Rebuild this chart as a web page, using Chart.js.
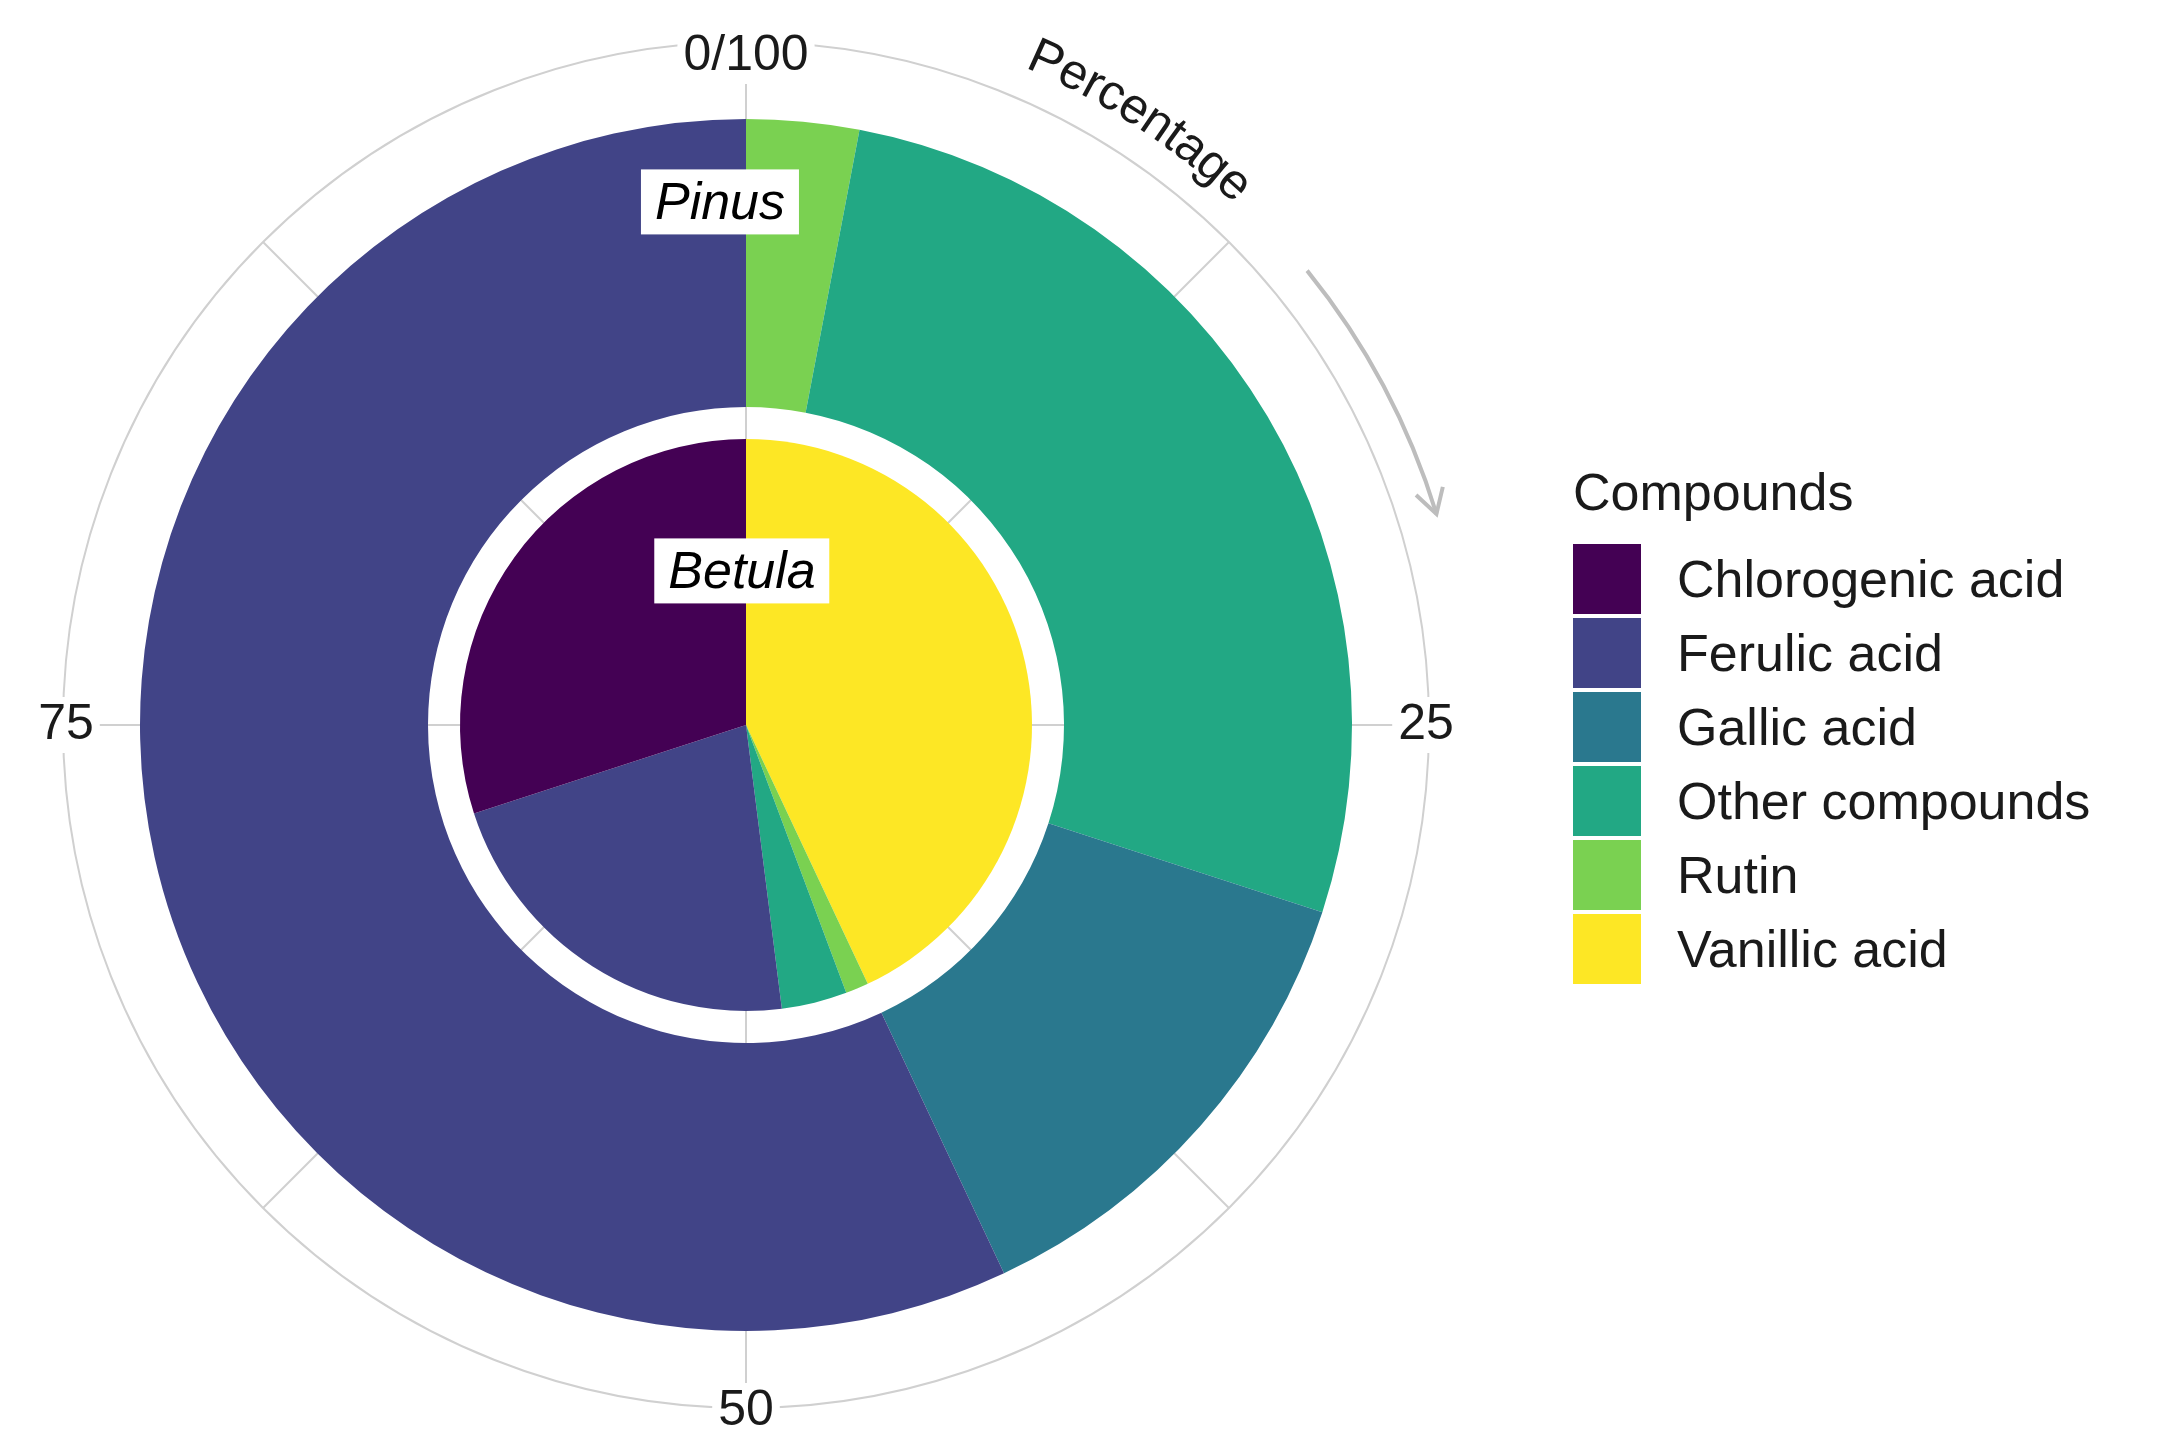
<!DOCTYPE html>
<html>
<head>
<meta charset="UTF-8" />
<script src="https://cdn.jsdelivr.net/npm/chart.js"></script>
<style>
  body { margin: 0; width: 2174px; height: 1449px; background: #fff; font-family: "Liberation Sans", Arial, sans-serif; position: relative; overflow: hidden; }
  #wrap { position: absolute; left: 0; top: 0; width: 2174px; height: 1449px; }
  .tag { position: absolute; background: #fff; font-style: italic; font-size: 52px; padding: 4px 14px; transform: translate(-50%, -50%); line-height: 1.1; }
  .legend { position: absolute; left: 1573px; top: 462px; font-size: 52px; color: #1a1a1a; }
  .legend .title { margin-bottom: 20px; }
  .legend .row { display: flex; align-items: center; height: 74px; }
  .legend .sw { width: 68px; height: 70px; margin-right: 36px; }
</style>
</head>
<body>
<div id="wrap"><canvas id="myChart" width="2174" height="1449"></canvas></div>
<div class="tag" style="left:720px; top:202px;">Pinus</div>
<div class="tag" style="left:742px; top:571px;">Betula</div>
<div class="legend" id="legend"><div class="title">Compounds</div></div>

<script>
  var compounds = ["Chlorogenic acid", "Ferulic acid", "Gallic acid", "Other compounds", "Rutin", "Vanillic acid"];
  var colors = ["#440154", "#414487", "#2A788E", "#22A884", "#7AD151", "#FDE725"];
  var pinus = [0, 57, 13, 27, 3, 0];
  var betula = [30, 22, 0, 3.7, 1.3, 43];
  var tickLabels = ["0/100", "25", "50", "75"];

  // legend
  var legend = document.getElementById("legend");
  for (var i = 0; i < compounds.length; i++) {
    var row = document.createElement("div");
    row.className = "row";
    row.innerHTML = '<div class="sw" style="background:' + colors[i] + '"></div><span>' + compounds[i] + "</span>";
    legend.appendChild(row);
  }

  // ggplot stacks clockwise in reverse order
  var rev = function (a) { return a.slice().reverse(); };

  var cx = 746, cy = 725, rGrid = 683;

  var backdrop = {
    id: "backdrop",
    beforeDatasetsDraw(chart) {
      var ctx = chart.ctx;
      ctx.save();
      ctx.strokeStyle = "#d0d0d0";
      ctx.lineWidth = 2;
      for (var k = 0; k < 8; k++) {
        var a = k * Math.PI / 4 - Math.PI / 2;
        ctx.beginPath();
        ctx.moveTo(cx, cy);
        ctx.lineTo(cx + rGrid * Math.cos(a), cy + rGrid * Math.sin(a));
        ctx.stroke();
      }
      ctx.beginPath();
      ctx.arc(cx, cy, rGrid, 0, Math.PI * 2);
      ctx.stroke();
      ctx.restore();
    },
    afterDraw(chart) {
      var ctx = chart.ctx;
      ctx.save();
      ctx.font = "50px 'Liberation Sans', Arial, sans-serif";
      ctx.fillStyle = "#1a1a1a";
      ctx.textBaseline = "middle";
      ctx.textAlign = "center";
      var pos = [[cx, 56], [1426, cy], [cx, 1411], [66, cy]];
      for (var k = 0; k < tickLabels.length; k++) {
        var w = ctx.measureText(tickLabels[k]).width;
        ctx.fillStyle = "#fff";
        ctx.fillRect(pos[k][0] - w / 2 - 6, pos[k][1] - 28, w + 12, 56);
        ctx.fillStyle = "#1a1a1a";
        ctx.fillText(tickLabels[k], pos[k][0], pos[k][1]);
      }
      // curved "Percentage"
      var txt = "Percentage", r = 728, ang = 23 * Math.PI / 180;
      for (var c = 0; c < txt.length; c++) {
        var cw = ctx.measureText(txt[c]).width;
        var mid = ang + cw / 2 / r;
        ctx.save();
        ctx.translate(cx + r * Math.sin(mid), cy - r * Math.cos(mid));
        ctx.rotate(mid);
        ctx.fillText(txt[c], 0, 0);
        ctx.restore();
        ang += cw / r;
      }
      // arrow
      var ra = 722, a0 = 51 * Math.PI / 180, a1 = 73 * Math.PI / 180;
      ctx.strokeStyle = "#bdbdbd";
      ctx.lineWidth = 4;
      ctx.beginPath();
      ctx.arc(cx, cy, ra, a0 - Math.PI / 2, a1 - Math.PI / 2);
      ctx.stroke();
      var ex = cx + ra * Math.sin(a1), ey = cy - ra * Math.cos(a1);
      var tx = Math.cos(a1), ty = Math.sin(a1); // tangent direction
      var nx = -ty, ny = tx;
      ctx.beginPath();
      ctx.moveTo(ex - 24 * tx + 14 * Math.sin(a1), ey - 24 * ty - 14 * Math.cos(a1));
      ctx.lineTo(ex, ey);
      ctx.lineTo(ex - 24 * tx - 14 * Math.sin(a1), ey - 24 * ty + 14 * Math.cos(a1));
      ctx.stroke();
      ctx.restore();
    }
  };

  new Chart(document.getElementById("myChart"), {
    type: "doughnut",
    data: {
      labels: rev(compounds),
      datasets: [
        { label: "Pinus", data: rev(pinus), backgroundColor: rev(colors), borderWidth: 0, weight: 288 },
        { label: "gap", data: [100], backgroundColor: "rgba(0,0,0,0)", borderWidth: 0, weight: 32 },
        { label: "Betula", data: rev(betula), backgroundColor: rev(colors), borderWidth: 0, weight: 286 }
      ]
    },
    options: {
      responsive: false,
      animation: false,
      cutout: 0,
      layout: { padding: { left: 140, top: 119, right: 2174 - 140 - 1212, bottom: 1449 - 119 - 1212 } },
      plugins: { legend: { display: false }, tooltip: { enabled: false } }
    },
    plugins: [backdrop]
  });
</script>
</body>
</html>
